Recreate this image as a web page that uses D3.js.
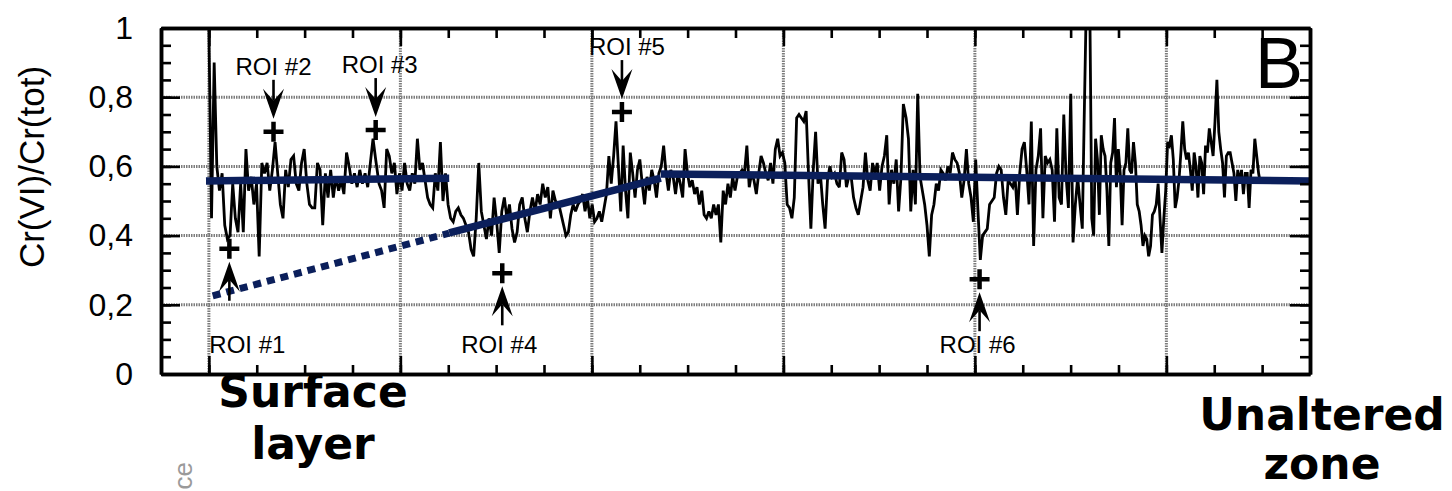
<!DOCTYPE html>
<html>
<head>
<meta charset="utf-8">
<script src="https://cdn.jsdelivr.net/npm/d3@7"></script>
<style>
    body { margin: 0; background: #fff; }
    svg { display: block; font-family: "Liberation Sans", Arial, sans-serif; }
</style>
</head>
<body>
<div id="chart"></div>
<script>
// depth window (um) covered by each stretch of the measured profile
const segmentDepths = [[0, 17.42], [17.77, 36.2], [36.55, 54.46], [54.7, 72.53], [72.82, 90.98], [91.22, 109.83]];

const ratioSeg1 = [1.0, 0.45, 0.90, 0.60, 0.53, 0.58, 0.43, 0.39, 0.40, 0.55, 0.45, 0.41, 0.55, 0.41, 0.65, 0.53,
    0.57, 0.49, 0.55, 0.34, 0.61, 0.58, 0.61, 0.53, 0.59, 0.67, 0.58, 0.49, 0.45, 0.59, 0.54, 0.62, 0.63, 0.55,
    0.53, 0.61, 0.65, 0.55, 0.49, 0.48, 0.48, 0.61, 0.59, 0.43, 0.58, 0.51, 0.59, 0.51, 0.57, 0.53, 0.56, 0.52,
    0.64, 0.60, 0.55, 0.58, 0.54, 0.59, 0.55, 0.58, 0.54, 0.61, 0.68, 0.62];
const ratioSeg2 = [0.55, 0.53, 0.48, 0.65, 0.63, 0.58, 0.61, 0.52, 0.58, 0.53, 0.61, 0.55, 0.53, 0.58, 0.55, 0.68,
    0.59, 0.61, 0.56, 0.51, 0.49, 0.48, 0.58, 0.53, 0.67, 0.50, 0.58, 0.49, 0.45, 0.44, 0.47, 0.48, 0.46, 0.45,
    0.43, 0.41, 0.36, 0.34, 0.45, 0.61, 0.47, 0.43, 0.39, 0.45, 0.40, 0.51, 0.44, 0.35, 0.47, 0.51, 0.45, 0.49,
    0.42, 0.38, 0.41, 0.49, 0.51, 0.45, 0.41, 0.47, 0.51, 0.47, 0.52, 0.49, 0.55, 0.51, 0.54, 0.45, 0.53, 0.50];
const ratioSeg3 = [0.49, 0.46, 0.43, 0.40, 0.41, 0.46, 0.49, 0.47, 0.49, 0.50, 0.52, 0.47, 0.51, 0.45, 0.49, 0.44,
    0.45, 0.47, 0.44, 0.48, 0.52, 0.63, 0.55, 0.63, 0.73, 0.60, 0.47, 0.66, 0.53, 0.45, 0.64, 0.58, 0.51, 0.59,
    0.62, 0.55, 0.49, 0.57, 0.53, 0.59, 0.56, 0.51, 0.58, 0.60, 0.66, 0.58, 0.53, 0.59, 0.57, 0.52, 0.58, 0.55,
    0.51, 0.65, 0.58, 0.54, 0.56, 0.52, 0.54, 0.49, 0.53, 0.46, 0.45, 0.47, 0.45, 0.49, 0.46, 0.49, 0.38, 0.53,
    0.49, 0.55, 0.51];
const ratioSeg4 = [0.57, 0.53, 0.57, 0.58, 0.59, 0.58, 0.66, 0.54, 0.58, 0.56, 0.52, 0.58, 0.63, 0.61, 0.58, 0.56,
    0.61, 0.55, 0.65, 0.68, 0.63, 0.64, 0.61, 0.49, 0.48, 0.45, 0.51, 0.74, 0.75, 0.74, 0.73, 0.76, 0.58, 0.42,
    0.59, 0.70, 0.55, 0.58, 0.49, 0.42, 0.56, 0.60, 0.57, 0.58, 0.55, 0.54, 0.64, 0.62, 0.54, 0.57, 0.57, 0.51,
    0.48, 0.46, 0.50, 0.54, 0.64, 0.56, 0.53, 0.61, 0.58, 0.61, 0.53, 0.60, 0.63, 0.69, 0.49, 0.59, 0.55, 0.62,
    0.47, 0.57, 0.78];
const ratioSeg5 = [0.74, 0.68, 0.47, 0.59, 0.49, 0.81, 0.57, 0.53, 0.49, 0.43, 0.34, 0.46, 0.49, 0.55, 0.53, 0.59,
    0.58, 0.56, 0.60, 0.58, 0.64, 0.62, 0.61, 0.58, 0.51, 0.56, 0.65, 0.55, 0.51, 0.44, 0.62, 0.47, 0.33, 0.40,
    0.41, 0.42, 0.49, 0.50, 0.51, 0.58, 0.60, 0.59, 0.51, 0.46, 0.56, 0.55, 0.54, 0.57, 0.46, 0.58, 0.65, 0.67,
    0.59, 0.49, 0.73, 0.37, 0.59, 0.63, 0.71, 0.45, 0.63, 0.61, 0.62, 0.59, 0.44, 0.71, 0.51, 0.49, 0.75, 0.57,
    0.48, 0.81, 0.38, 0.49, 0.57, 0.49];
const ratioSeg6 = [0.42, 0.74, 1.04, 1.08, 1.04, 0.45, 0.40, 0.68, 0.62, 0.46, 0.69, 0.65, 0.63, 0.53, 0.37, 0.61,
    0.64, 0.74, 0.54, 0.65, 0.58, 0.43, 0.59, 0.61, 0.71, 0.59, 0.58, 0.67, 0.61, 0.49, 0.47, 0.43, 0.37, 0.40,
    0.39, 0.34, 0.37, 0.46, 0.47, 0.49, 0.55, 0.45, 0.35, 0.45, 0.53, 0.67, 0.66, 0.69, 0.62, 0.48, 0.51, 0.56,
    0.64, 0.73, 0.65, 0.62, 0.64, 0.59, 0.53, 0.64, 0.60, 0.51, 0.63, 0.61, 0.52, 0.66, 0.64, 0.71, 0.67, 0.63,
    0.73, 0.85, 0.70, 0.65, 0.61, 0.51, 0.63, 0.64, 0.64, 0.61, 0.58, 0.50, 0.59, 0.55, 0.59, 0.52, 0.58, 0.58,
    0.48, 0.59, 0.58, 0.68, 0.63, 0.58, 0.55];
const ratioSegments = [ratioSeg1, ratioSeg2, ratioSeg3, ratioSeg4, ratioSeg5, ratioSeg6];

// trend lines [depth, ratio]
const fitSurface = [[-0.3, 0.558], [25.1, 0.566]];
const fitExtrapolated = [[0.4, 0.226], [25.1, 0.407]];
const fitGradient = [[25.1, 0.408], [47.2, 0.566]];
const fitBulk = [[47.2, 0.578], [115, 0.558]];

const roiNames = ["ROI #1", "ROI #2", "ROI #3", "ROI #4", "ROI #5", "ROI #6"];
const roiDepths = [2.14, 6.75, 17.42, 30.64, 43.14, 80.49];
const roiRatios = [0.362, 0.700, 0.705, 0.291, 0.757, 0.274];
const roiSides = ["below", "above", "above", "below", "above", "below"];

const yMajorTicks = [0, 0.2, 0.4, 0.6, 0.8, 1];
const yTickLabels = ["0", "0,2", "0,4", "0,6", "0,8", "1"];
const xMajorTicks = [0, 20, 40, 60, 80, 100];
const yAxisTitle = "Cr(VI)/Cr(tot)";
const panelLetter = "B";
const zoneSurface = ["Surface", "layer"];
const zoneBulk = ["Unaltered", "zone"];

const navy = "#0b1f5b";

class ProfileChart {
    constructor() {
        this.width = 1452;
        this.height = 491;
        this.left = 161;
        this.right = 1310;
        this.top = 28;
        this.bottom = 374;
        this.buildScales();
        this.svg = d3.select("#chart").append("svg")
            .attr("width", this.width)
            .attr("height", this.height);
        this.drawGrid();
        this.drawProfile();
        this.drawFits();
        this.drawAxes();
        this.drawRois();
        this.drawLabels();
    }

    buildScales() {
        this.x = d3.scaleLinear().domain([-5, 115]).range([this.left, this.right]);
        this.y = d3.scaleLinear().domain([0, 1]).range([this.bottom, this.top]);
    }

    drawGrid() {
        let g = this.svg.append("g")
            .attr("stroke", "#7c7c7c")
            .attr("stroke-width", 3)
            .attr("stroke-dasharray", "1.5,1");
        g.selectAll(".hgrid").data(yMajorTicks.filter(d => d > 0 && d < 1))
            .join("line")
            .attr("x1", this.left).attr("x2", this.right)
            .attr("y1", d => this.y(d)).attr("y2", d => this.y(d));
        g.selectAll(".vgrid").data(xMajorTicks)
            .join("line")
            .attr("x1", d => this.x(d)).attr("x2", d => this.x(d))
            .attr("y1", this.top).attr("y2", this.bottom);
    }

    drawProfile() {
        let points = [];
        ratioSegments.forEach((vals, s) => {
            let [d0, d1] = segmentDepths[s];
            vals.forEach((v, i) => points.push([d0 + (d1 - d0) * i / (vals.length - 1), v]));
        });

        this.svg.append("clipPath").attr("id", "plot-clip")
            .append("rect")
            .attr("x", this.left).attr("y", this.top)
            .attr("width", this.right - this.left).attr("height", this.bottom - this.top);

        let line = d3.line().x(d => this.x(d[0])).y(d => this.y(d[1]));
        this.svg.append("path")
            .datum(points)
            .attr("clip-path", "url(#plot-clip)")
            .attr("d", line)
            .attr("fill", "none")
            .attr("stroke", "#000")
            .attr("stroke-width", 2.8)
            .attr("stroke-linejoin", "miter")
            .attr("stroke-miterlimit", 3);
    }

    drawFits() {
        let line = d3.line().x(d => this.x(d[0])).y(d => this.y(d[1]));
        [fitSurface, fitGradient, fitBulk].forEach(seg => {
            this.svg.append("path")
                .attr("d", line(seg))
                .attr("stroke", navy)
                .attr("stroke-width", 7.5)
                .attr("fill", "none");
        });
        this.svg.append("path")
            .attr("d", line(fitExtrapolated))
            .attr("stroke", navy)
            .attr("stroke-width", 7)
            .attr("stroke-dasharray", "8,6")
            .attr("fill", "none");
    }

    drawAxes() {
        let yMinor = d3.range(0, 1.0001, 0.05);
        let xMinor = d3.range(-5, 115.001, 5);
        let fmt = (d, i) => yTickLabels[i];

        let put = (axis, tx, ty) => {
            let g = this.svg.append("g")
                .attr("transform", `translate(${tx},${ty})`)
                .call(axis);
            g.select(".domain").attr("stroke-width", 3.5);
            g.selectAll(".tick line").attr("stroke-width", 2.6);
            return g;
        };

        put(d3.axisLeft(this.y).tickValues(yMinor).tickSize(-10).tickSizeOuter(0).tickFormat(""), this.left, 0);
        let left = put(d3.axisLeft(this.y).tickValues(yMajorTicks).tickSize(-19).tickSizeOuter(0)
            .tickPadding(28).tickFormat(fmt), this.left, 0);
        left.selectAll("text")
            .style("font-size", "32px")
            .style("font-family", "'Liberation Sans', Arial, sans-serif")
            .attr("fill", "#000");

        put(d3.axisRight(this.y).tickValues(yMinor).tickSize(-10).tickSizeOuter(0).tickFormat(""), this.right, 0);
        put(d3.axisRight(this.y).tickValues(yMajorTicks).tickSize(-20).tickSizeOuter(0).tickFormat(""), this.right, 0);

        put(d3.axisBottom(this.x).tickValues(xMinor).tickSize(-9).tickSizeOuter(0).tickFormat(""), 0, this.bottom);
        put(d3.axisBottom(this.x).tickValues(xMajorTicks).tickSize(-18).tickSizeOuter(0).tickFormat(""), 0, this.bottom);

        put(d3.axisTop(this.x).tickValues(xMinor).tickSize(-10).tickSizeOuter(0).tickFormat(""), 0, this.top);
        put(d3.axisTop(this.x).tickValues(xMajorTicks).tickSize(-18).tickSizeOuter(0).tickFormat(""), 0, this.top);
    }

    drawRois() {
        let labelNudge = [18, 0, 4, -3, 5, -2];
        let gap = 13, shaft = 39;
        let belowLabelY = this.y(0.06);

        roiNames.forEach((name, i) => {
            let mx = this.x(roiDepths[i]);
            let my = this.y(roiRatios[i]);
            let dir = roiSides[i] === "above" ? 1 : -1;
            let tipY = my - dir * gap;

            this.svg.append("path")
                .attr("d", "M-10,0H10M0,-10V10")
                .attr("transform", `translate(${mx},${my})`)
                .attr("stroke", "#000")
                .attr("stroke-width", 4.5);

            let g = this.svg.append("g").attr("transform", `translate(${mx},${tipY})`);
            g.append("line")
                .attr("x1", 0).attr("x2", 0)
                .attr("y1", -dir * shaft).attr("y2", -dir * 18)
                .attr("stroke", "#000")
                .attr("stroke-width", 2.6);
            g.append("path")
                .attr("d", `M0,0L-10.5,${-30 * dir}L0,${-18 * dir}L10.5,${-30 * dir}Z`)
                .attr("fill", "#000");

            let ly = dir === 1 ? tipY - shaft - 5 : belowLabelY;
            this.svg.append("text")
                .attr("x", mx + labelNudge[i])
                .attr("y", ly)
                .attr("text-anchor", "middle")
                .style("font-size", "24px")
                .text(name);
        });
    }

    drawLabels() {
        let midY = (this.top + this.bottom) / 2 - 34;
        this.svg.append("text")
            .attr("transform", `translate(44,${midY}) rotate(-90)`)
            .attr("text-anchor", "middle")
            .style("font-size", "35px")
            .text(yAxisTitle);

        this.svg.append("text")
            .attr("x", this.right - 7)
            .attr("y", this.top + 60)
            .attr("text-anchor", "end")
            .style("font-size", "72px")
            .text(panelLetter);

        let zone = (lines, cx, y0, step) => {
            lines.forEach((t, i) => {
                this.svg.append("text")
                    .attr("x", cx)
                    .attr("y", y0 + i * step)
                    .attr("text-anchor", "middle")
                    .style("font-family", "'Comic Sans MS', 'DejaVu Sans', sans-serif")
                    .style("font-weight", "bold")
                    .style("font-size", "44px")
                    .text(t);
            });
        };
        zone(zoneSurface, 313, 407, 52);
        zone(zoneBulk, 1322, 430, 49);

        // cropped caption fragment at the bottom edge
        this.svg.append("text")
            .attr("transform", "translate(192,462) rotate(-90)")
            .attr("text-anchor", "end")
            .attr("fill", "#9a9a9a")
            .style("font-size", "26px")
            .text("ce");
    }
}

new ProfileChart();
</script>
</body>
</html>
